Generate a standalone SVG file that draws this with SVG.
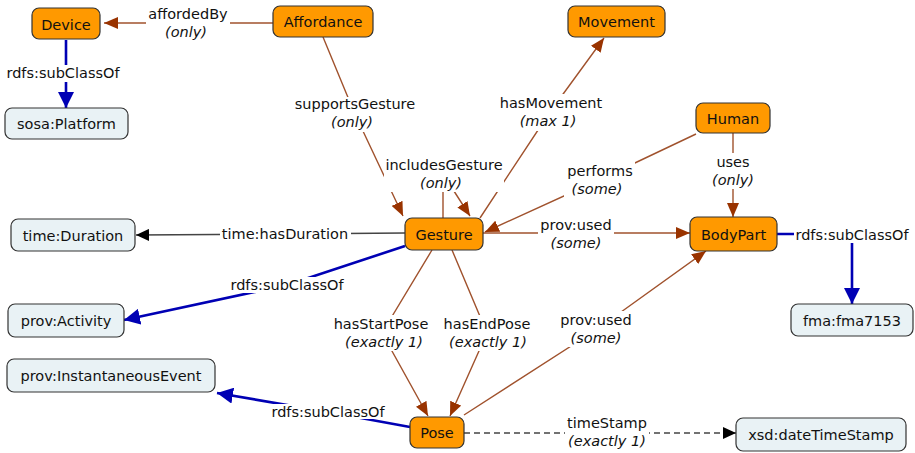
<svg xmlns="http://www.w3.org/2000/svg" width="915" height="453" viewBox="0 0 915 453">
<style>
text{font-family:"DejaVu Sans",Verdana,sans-serif;font-size:14.5px;fill:#111;text-anchor:middle}
.it{font-style:italic}
.cls rect{fill:#ff9900;stroke:#333;stroke-width:1.2}
.ext rect{fill:#e9f2f5;stroke:#333;stroke-width:1.2}
.op{fill:none;stroke:#a0522d;stroke-width:1.4}
.sc{fill:none;stroke:#0000b4;stroke-width:2.6}
.dp{fill:none;stroke:#444;stroke-width:1.4}
.dash{stroke-dasharray:6,4}
.bg{fill:#fff}
</style>
<defs>
<marker id="ab" viewBox="0 0 14 12" refX="14" refY="6" markerWidth="14" markerHeight="12" markerUnits="userSpaceOnUse" orient="auto"><path d="M0,0 L14,6 L0,12 z" fill="#993300"/></marker>
<marker id="ablue" viewBox="0 0 16 16" refX="16" refY="8" markerWidth="16" markerHeight="16" markerUnits="userSpaceOnUse" orient="auto"><path d="M0,0 L16,8 L0,16 z" fill="#0000b4"/></marker>
<marker id="ak" viewBox="0 0 13 12" refX="13" refY="6" markerWidth="13" markerHeight="12" markerUnits="userSpaceOnUse" orient="auto"><path d="M0,0 L13,6 L0,12 z" fill="#000"/></marker>
</defs>
<g id="connectors">
<path class="op" d="M273,23 L104,23" marker-end="url(#ab)"/>
<path class="sc" d="M66,40 L66,108" marker-end="url(#ablue)"/>
<path class="op" d="M323,37 L354,112 L403,216" marker-end="url(#ab)"/>
<path class="op" d="M443,218 L443,174 L470,216" marker-end="url(#ab)"/>
<path class="op" d="M480,218 L550,112 L604,38" marker-end="url(#ab)"/>
<path class="op" d="M696,134 L599,180 L485,232" marker-end="url(#ab)"/>
<path class="op" d="M483,233 L690,233" marker-end="url(#ab)"/>
<path class="op" d="M733,133 L733,217" marker-end="url(#ab)"/>
<path class="sc" d="M777,234 L852,234 L852,304" marker-end="url(#ablue)"/>
<path class="dp" d="M405,233 L285,234 L136,235" marker-end="url(#ak)"/>
<path class="sc" d="M405,246 L287,285 L124,320" marker-end="url(#ablue)"/>
<path class="op" d="M432,250 L382,333 L428,416" marker-end="url(#ab)"/>
<path class="op" d="M452,250 L487,333 L450,416" marker-end="url(#ab)"/>
<path class="op" d="M464,415 L596,330 L706,251" marker-end="url(#ab)"/>
<path class="dp dash" d="M464,433 L736,433" marker-end="url(#ak)"/>
<path class="sc" d="M410,427 L328,412 L217,393" marker-end="url(#ablue)"/>
<g id="labels">
<rect class="bg" x="146" y="4" width="84" height="36"/>
<text x="188" y="19">affordedBy</text><text class="it" x="186" y="37">(only)</text>
<rect class="bg" x="6" y="65" width="115" height="17"/>
<text x="63" y="78">rdfs:subClassOf</text>
<rect class="bg" x="293" y="97" width="124" height="35"/>
<text x="355" y="109">supportsGesture</text><text class="it" x="352" y="127">(only)</text>
<rect class="bg" x="384" y="155" width="120" height="37"/>
<text x="444" y="170">includesGesture</text><text class="it" x="441" y="188">(only)</text>
<rect class="bg" x="498" y="94" width="105" height="37"/>
<text x="551" y="108">hasMovement</text><text class="it" x="548" y="126">(max 1)</text>
<rect class="bg" x="564" y="162" width="71" height="35"/>
<text x="600" y="176">performs</text><text class="it" x="597" y="194">(some)</text>
<rect class="bg" x="538" y="216" width="76" height="36"/>
<text x="576" y="230">prov:used</text><text class="it" x="576" y="248">(some)</text>
<rect class="bg" x="710" y="153" width="46" height="36"/>
<text x="733" y="167">uses</text><text class="it" x="733" y="185">(only)</text>
<rect class="bg" x="794" y="225" width="117" height="18"/>
<text x="852" y="239.5">rdfs:subClassOf</text>
<rect class="bg" x="220" y="225" width="131" height="18"/>
<text x="285" y="239">time:hasDuration</text>
<rect class="bg" x="229" y="277" width="116" height="16"/>
<text x="287" y="290">rdfs:subClassOf</text>
<rect class="bg" x="341" y="315" width="84" height="36"/>
<text x="381" y="329">hasStartPose</text><text class="it" x="384" y="347">(exactly 1)</text>
<rect class="bg" x="444" y="315" width="88" height="36"/>
<text x="487" y="329">hasEndPose</text><text class="it" x="488" y="347">(exactly 1)</text>
<rect class="bg" x="558" y="311" width="76" height="36"/>
<text x="596" y="325">prov:used</text><text class="it" x="596" y="343">(some)</text>
<rect class="bg" x="565" y="414" width="84" height="36"/>
<text x="607" y="428">timeStamp</text><text class="it" x="607" y="446">(exactly 1)</text>
<rect class="bg" x="270" y="404" width="116" height="15"/>
<text x="328" y="417">rdfs:subClassOf</text>
</g>
</g>
<g id="node-Device" class="cls"><rect x="32" y="8" width="68" height="31" rx="7"/><text x="66" y="29.5">Device</text></g>
<g id="node-Affordance" class="cls"><rect x="273" y="6" width="100" height="31" rx="7"/><text x="323" y="27">Affordance</text></g>
<g id="node-Movement" class="cls"><rect x="568" y="6" width="97" height="31" rx="7"/><text x="616.5" y="27">Movement</text></g>
<g id="node-sosaPlatform" class="ext"><rect x="5" y="108" width="123" height="31" rx="7"/><text x="66.5" y="129">sosa:Platform</text></g>
<g id="node-Human" class="cls"><rect x="696" y="103" width="74" height="30" rx="7"/><text x="733" y="123.5">Human</text></g>
<g id="node-Gesture" class="cls"><rect x="405" y="218" width="78" height="32" rx="7"/><text x="444" y="239.5">Gesture</text></g>
<g id="node-BodyPart" class="cls"><rect x="690" y="217" width="87" height="34" rx="7"/><text x="733.5" y="239.5">BodyPart</text></g>
<g id="node-timeDuration" class="ext"><rect x="11" y="219" width="124" height="32" rx="7"/><text x="73" y="240.5">time:Duration</text></g>
<g id="node-provActivity" class="ext"><rect x="8" y="304" width="116" height="33" rx="7"/><text x="66" y="326">prov:Activity</text></g>
<g id="node-provInstantaneousEvent" class="ext"><rect x="7" y="359" width="208" height="33" rx="7"/><text x="111" y="381">prov:InstantaneousEvent</text></g>
<g id="node-Pose" class="cls"><rect x="410" y="417" width="54" height="31" rx="7"/><text x="437" y="437.5">Pose</text></g>
<g id="node-fma7153" class="ext"><rect x="791" y="304" width="122" height="32" rx="7"/><text x="852" y="325.5">fma:fma7153</text></g>
<g id="node-xsdDateTimeStamp" class="ext"><rect x="736" y="418" width="170" height="33" rx="7"/><text x="821" y="440">xsd:dateTimeStamp</text></g>
</svg>
